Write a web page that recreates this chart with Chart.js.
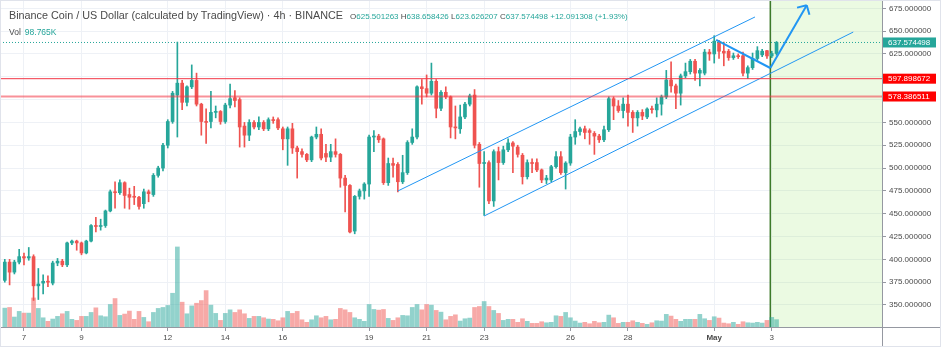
<!DOCTYPE html>
<html lang="en">
<head>
<meta charset="UTF-8" />
<title>Binance Coin / US Dollar - 4h</title>
<script src="https://cdn.jsdelivr.net/npm/chart.js"></script>
<style>
  body { margin: 0; background: #fff; }
  .wrap { position: relative; width: 941px; height: 347px; font-family: "Liberation Sans", Arial, sans-serif; }
  .legend { position: absolute; left: 9px; top: 8px; line-height: 12px; color: #4a4a4a; white-space: nowrap; pointer-events: none; }
  .legend .title { font-size: 10.8px; }
  .legend .ohlc { font-size: 8px; margin-left: 7px; }
  .legend .v { color: #26a69a; }
  .vol { position: absolute; left: 9px; top: 26px; line-height: 12px; font-size: 8.5px; color: #4a4a4a; pointer-events: none; }
  .vol .v { color: #26a69a; margin-left: 4px; }
</style>
</head>
<body>
<div class="wrap">
  <canvas id="chart"></canvas>
  <div class="legend">
    <span class="title">Binance Coin / US Dollar (calculated by TradingView) · 4h · BINANCE</span><span class="ohlc" id="ohlc"></span>
  </div>
  <div class="vol">Vol<span class="v" id="volText"></span></div>
</div>

<script>
// 4h candles, 6 Apr 08:00 -> 3 May 04:00 (index 0..161)
const opens = [
  377, 397, 386, 397, 403, 401.5, 403, 371, 374, 376,
  374, 396, 398, 394, 418, 420, 418, 407, 420, 437,
  436, 437, 453, 474, 473, 484, 471, 469, 468, 461,
  474, 471, 492, 500, 525, 551, 580, 593, 572, 589,
  596, 570, 551, 551, 561, 562, 551, 569, 577, 575,
  546, 536, 550, 545, 550, 543, 553, 553, 543, 532,
  543, 522, 518, 515, 509, 534, 537, 516, 512, 518,
  515, 489, 481, 431, 469, 475, 482.5, 534, 535, 532,
  484, 505, 504, 485, 495, 528, 534, 589, 587, 582,
  595, 565.5, 583, 578, 545, 543, 556, 570, 580, 526,
  505, 506, 464, 518, 506, 520, 527.5, 523, 514, 490.5,
  506, 506, 498, 487, 487, 501.5, 512.5, 495, 505.5, 534,
  540, 543, 541, 538, 535, 531, 542, 576, 568, 563,
  570, 561, 555, 561, 556, 565, 563.7, 570, 578, 596.5,
  590, 582, 601, 605.6, 617, 604, 604, 627, 625, 638,
  628, 628, 621, 623, 623, 604, 610, 620, 624, 628.6,
  622.8, 625.501263
];
const highs = [
  400, 400, 399, 411, 407, 413, 405, 390, 383, 382,
  398, 401, 400, 419, 421, 421, 419, 421, 438, 446,
  444, 454, 476, 485, 487, 485, 478, 480, 469, 477,
  476, 494, 502, 527, 553, 584, 638, 596, 590, 613,
  604, 571, 565, 584, 568, 563, 571, 592, 585, 577,
  550, 553, 552, 556, 552, 555, 556, 555, 545, 545,
  549, 524, 521, 516, 535, 545, 543, 526, 526, 532,
  516, 492, 482, 470, 477, 484, 536, 541, 537, 533,
  511, 511, 506, 514, 530, 543, 590, 597, 602, 615,
  597, 585, 589, 579, 568, 569, 572, 581, 586, 528,
  518, 508, 520, 523, 524, 532, 529, 525, 516, 509,
  510, 510, 499, 492, 503, 518, 518, 507, 537, 553,
  545, 546, 543, 540, 537, 546, 578, 578, 574, 577,
  580, 563, 563, 564, 566, 568, 577, 580, 607, 616.5,
  592, 603, 615, 619, 619, 609, 630, 630, 645, 640,
  638, 630, 626, 625, 627, 612, 626, 633, 630, 629,
  628, 638.658426
];
const lows = [
  375, 372, 384, 395, 394, 399, 355, 356, 362, 370,
  372, 393, 392, 392, 416, 410, 405, 406, 419, 430,
  432, 435, 452, 456, 471, 456, 455, 460, 455, 456,
  463, 469, 490, 497, 522, 549, 534, 564, 568, 587,
  568, 536, 527, 544, 555, 548, 549, 566, 567, 523,
  523, 530, 543, 542, 541, 541, 549, 542, 520, 503,
  516, 489, 512, 507, 507, 532, 509, 507, 507, 512,
  479, 452, 429, 428, 466, 466, 469, 518, 528, 482,
  481, 490, 474, 483, 493, 526, 532, 570, 578, 580,
  555, 563, 576, 533, 532, 538, 554, 568, 522, 479,
  448, 461, 458, 487, 504, 518, 495, 512, 482.5, 488,
  495, 496, 484, 483, 485, 500, 493, 477, 503, 526,
  536, 532, 526, 515, 528, 529, 540, 553, 561, 555,
  546, 539, 546, 553, 554, 560, 556, 558, 576, 583,
  565, 569, 599, 603, 596, 590, 602, 618, 615, 620,
  612, 618, 619, 620, 601, 598, 608, 618, 622, 620,
  621, 623.626207
];
const closes = [
  397, 386, 397, 403, 401.5, 403, 371, 373, 376, 375,
  396, 398, 394, 418, 420, 418, 407, 420, 437, 436,
  437, 453, 474, 473, 484, 470, 468, 468, 458, 474,
  472, 492, 500, 525, 551, 582, 593, 572, 589, 596,
  570, 551, 550, 561, 562, 551, 569, 576, 574, 545,
  536, 550, 545, 550, 543, 553, 552, 544, 532, 543,
  522, 518, 515, 509, 534, 537, 511, 512, 518, 515,
  489, 481, 430, 469, 475, 482.5, 534, 535, 531, 484,
  505, 503, 485, 495, 528, 534, 589, 587, 582, 595,
  565.5, 583, 578, 545, 544, 556, 570, 579, 525, 505,
  506, 464, 518, 506, 520, 527.5, 524, 515, 490.5, 506,
  505, 498, 487, 489, 501.5, 512.5, 495, 505.5, 534, 540,
  543, 539, 539, 535, 531, 542, 576, 568, 563, 570,
  561, 555, 561, 557, 564.7, 564, 570, 578, 596.5, 590,
  582, 601, 605.6, 617, 604, 607, 627, 625, 639, 628,
  626, 621, 623, 622, 604, 610, 620, 628.6, 628, 622.8,
  625.48319, 637.574498
];
// volume in thousands
const volumes = [
  254, 263, 134, 210, 187, 187, 391, 250, 124, 76,
  107, 143, 178, 210, 103, 89, 143, 143, 196, 258,
  151, 138, 303, 383, 156, 174, 214, 103, 210, 129,
  71, 196, 250, 263, 290, 454, 1077, 334, 178, 284,
  320, 356, 490, 294, 183, 89, 183, 231, 196, 231,
  178, 116, 143, 143, 124, 107, 103, 84, 124, 210,
  183, 210, 97, 63, 97, 151, 124, 143, 97, 103,
  250, 231, 196, 124, 103, 76, 303, 236, 227, 236,
  116, 89, 124, 156, 151, 263, 303, 231, 303, 294,
  223, 200, 97, 143, 164, 80, 111, 120, 263, 276,
  343, 276, 223, 183, 89, 103, 103, 63, 111, 76,
  49, 49, 71, 57, 63, 151, 143, 196, 124, 80,
  53, 63, 44, 76, 57, 63, 160, 124, 49, 63,
  63, 84, 63, 49, 36, 57, 84, 80, 170, 147,
  103, 76, 103, 103, 103, 170, 111, 89, 138, 120,
  53, 44, 63, 36, 71, 57, 53, 63, 53, 89,
  129, 98.765
];

// axis ticks
const priceTicks = [350, 375, 400, 425, 450, 475, 500, 525, 550, 575, 600, 625, 650, 675];
const dayTicks = [4, 16, 34, 46, 58, 76, 88, 100, 118, 130, 148, 160];
const dayLabels = ['7', '9', '12', '14', '16', '19', '21', '23', '26', '28', 'May', '3'];

// drawings: [candle index, price]
const supportHigh = 597.898672;
const supportLow = 578.386511;
const upperChannel = [[82.0, 474.9], [156.5, 665.5]];
const lowerChannel = [[100.0, 447.5], [177.0, 649.0]];
const wedgeLine = [[148.4, 640.3], [159.7, 609.6]];
const arrowPath = [[159.7, 609.6], [167.3, 678.4]];
const futureStart = 159.7;

const xMin = -1.0, xMax = 183.0;
const yMin = 325.9, yMax = 684.1;
const volMax = 4400;

const UP = '#26a69a', DOWN = '#ef5350';
const last = closes.length - 1;
const lastPrice = closes[last];

const isUp = i => closes[i] >= opens[i];
const pts = arr => arr.map(p => ({ x: p[0], y: p[1] }));
const hline = v => [{ x: xMin, y: v }, { x: xMax, y: v }];

// legend text
const chg = closes[last] - closes[last - 1];
document.getElementById('ohlc').innerHTML =
  'O<span class="v">' + opens[last].toFixed(6) + '</span> ' +
  'H<span class="v">' + highs[last].toFixed(6) + '</span> ' +
  'L<span class="v">' + lows[last].toFixed(6) + '</span> ' +
  'C<span class="v">' + closes[last].toFixed(6) + '</span> ' +
  '<span class="v">' + (chg >= 0 ? '+' : '') + chg.toFixed(6) + ' (' + (chg >= 0 ? '+' : '') + (chg / closes[last - 1] * 100).toFixed(2) + '%)</span>';
document.getElementById('volText').textContent = volumes[last].toFixed(3) + 'K';

const boxes = [
  { value: lastPrice, color: '#26a69a' },
  { value: supportHigh, color: '#ff0000' },
  { value: supportLow, color: '#ff0000' }
];

const decor = {
  id: 'decor',
  beforeDatasetsDraw(chart) {
    const { ctx, chartArea: a, scales: { x } } = chart;
    const fx = x.getPixelForValue(futureStart);
    ctx.save();
    ctx.fillStyle = 'rgba(155, 230, 110, 0.2)';
    ctx.fillRect(fx, a.top, a.right - fx, a.bottom - a.top);
    ctx.strokeStyle = '#3d7a2a';
    ctx.lineWidth = 1.5;
    ctx.beginPath();
    ctx.moveTo(fx, a.top);
    ctx.lineTo(fx, a.bottom);
    ctx.stroke();
    ctx.restore();
  },
  afterDatasetsDraw(chart) {
    const { ctx, scales: { x, y } } = chart;
    const x0 = x.getPixelForValue(arrowPath[0][0]), y0 = y.getPixelForValue(arrowPath[0][1]);
    const x1 = x.getPixelForValue(arrowPath[1][0]), y1 = y.getPixelForValue(arrowPath[1][1]);
    const ang = Math.atan2(y0 - y1, x0 - x1);
    ctx.save();
    ctx.strokeStyle = '#2196f3';
    ctx.lineWidth = 2;
    ctx.beginPath();
    [-0.8, 0.8].forEach(d => {
      ctx.moveTo(x1, y1);
      ctx.lineTo(x1 + 10 * Math.cos(ang + d), y1 + 10 * Math.sin(ang + d));
    });
    ctx.stroke();
    ctx.restore();
  },
  afterDraw(chart) {
    const { ctx, chartArea: a, scales: { y } } = chart;
    ctx.save();
    ctx.strokeStyle = '#9598a1';
    ctx.lineWidth = 1;
    ctx.beginPath();
    ctx.moveTo(a.right + 0.5, 0);
    ctx.lineTo(a.right + 0.5, chart.height);
    ctx.moveTo(0, a.bottom + 0.5);
    ctx.lineTo(chart.width, a.bottom + 0.5);
    ctx.stroke();
    ctx.strokeStyle = '#e0e3eb';
    ctx.strokeRect(0.5, 0.5, chart.width - 1, chart.height - 1);
    ctx.font = '8px "Liberation Sans", Arial, sans-serif';
    ctx.textBaseline = 'middle';
    boxes.forEach(b => {
      const py = y.getPixelForValue(b.value);
      ctx.fillStyle = b.color;
      ctx.fillRect(a.right + 1, py - 5, 53, 10);
      ctx.fillStyle = '#fff';
      ctx.fillText(b.value.toFixed(6), a.right + 6, py + 0.5);
    });
    ctx.restore();
  }
};

const lineSet = (data, color, width, dash) => ({
  type: 'line', data, borderColor: color, borderWidth: width, borderDash: dash || [],
  pointRadius: 0, tension: 0, order: 0, yAxisID: 'y'
});

new Chart(document.getElementById('chart'), {
  type: 'bar',
  data: {
    datasets: [
      {
        label: 'Volume', yAxisID: 'vol', order: 5, barThickness: 4,
        data: volumes.map((v, i) => ({ x: i, y: v })),
        backgroundColor: c => isUp(c.dataIndex) ? 'rgba(38,166,154,0.5)' : 'rgba(239,83,80,0.5)'
      },
      {
        label: 'Wick', yAxisID: 'y', order: 3, barThickness: 1,
        data: highs.map((h, i) => ({ x: i, y: [lows[i], h] })),
        backgroundColor: c => isUp(c.dataIndex) ? UP : DOWN
      },
      {
        label: 'Body', yAxisID: 'y', order: 2, barThickness: 3, minBarLength: 1,
        data: opens.map((o, i) => ({ x: i, y: [o, closes[i]] })),
        backgroundColor: c => isUp(c.dataIndex) ? UP : DOWN
      },
      lineSet(hline(lastPrice), '#26a69a', 1, [1, 2]),
      lineSet(hline(supportHigh), '#f23645', 1),
      lineSet(hline(supportLow), 'rgba(242,54,69,0.55)', 2),
      lineSet(pts(upperChannel), '#2196f3', 1),
      lineSet(pts(lowerChannel), '#2196f3', 1),
      lineSet(pts(wedgeLine), '#2196f3', 2),
      lineSet(pts(arrowPath), '#2196f3', 2)
    ]
  },
  options: {
    responsive: true,
    maintainAspectRatio: false,
    animation: false,
    layout: { padding: 0 },
    datasets: { bar: { grouped: false } },
    plugins: { legend: { display: false }, tooltip: { enabled: false } },
    scales: {
      x: {
        type: 'linear', min: xMin, max: xMax, offset: false,
        grid: { color: '#eef1f6', tickColor: '#9598a1', tickLength: 4, offset: false },
        border: { color: '#9598a1' },
        afterBuildTicks: s => { s.ticks = dayTicks.map(v => ({ value: v })); },
        afterFit: s => { s.height = 20; s.paddingLeft = 0; s.paddingRight = 0; },
        ticks: {
          autoSkip: false, maxRotation: 0, padding: 2, color: '#4a4a4a',
          font: c => ({ family: '"Liberation Sans", Arial, sans-serif', size: 8,
                        weight: c.tick && c.tick.label === 'May' ? 'bold' : 'normal' }),
          callback: v => dayLabels[dayTicks.indexOf(v)]
        }
      },
      y: {
        type: 'linear', position: 'right', min: yMin, max: yMax,
        grid: { color: '#eef1f6', tickColor: '#9598a1', tickLength: 4 },
        border: { color: '#9598a1' },
        afterBuildTicks: s => { s.ticks = priceTicks.map(v => ({ value: v })); },
        afterFit: s => { s.width = 59; s.paddingTop = 0; s.paddingBottom = 0; },
        ticks: {
          padding: 3, color: '#4a4a4a',
          font: { family: '"Liberation Sans", Arial, sans-serif', size: 8 },
          callback: v => boxes.some(b => Math.abs(b.value - v) < 8) ? '' : v.toFixed(6)
        }
      },
      vol: { type: 'linear', display: false, min: 0, max: volMax }
    }
  },
  plugins: [decor]
});
</script>
</body>
</html>
